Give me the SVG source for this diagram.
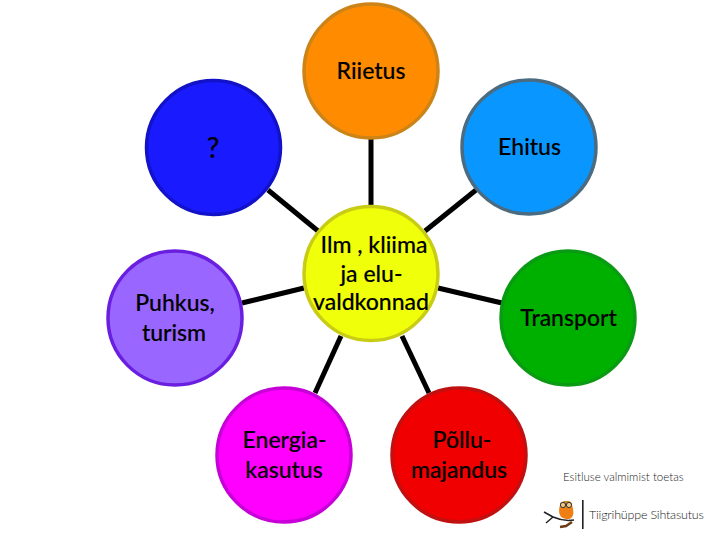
<svg xmlns="http://www.w3.org/2000/svg" width="720" height="540" viewBox="0 0 720 540">
<style>
.n{stroke-width:3.500}
.t{font-family:Lato,"Open Sans",sans-serif;font-size:23px;font-weight:500;fill:#000;text-anchor:middle;stroke:#000;stroke-width:.15}
.c line{stroke:#000;stroke-width:5;fill:none}
.s{font-family:Lato,"Open Sans",sans-serif;fill:#222;font-weight:300}
</style>
<rect width="720" height="540" fill="#fff"/>
<g id="connectors" class="c">
<line x1="371" y1="138" x2="371" y2="206"/>
<line x1="268" y1="190" x2="318" y2="231"/>
<line x1="476" y1="190" x2="425" y2="231"/>
<line x1="242" y1="303" x2="304" y2="288"/>
<line x1="502" y1="303" x2="438" y2="288"/>
<line x1="315" y1="393" x2="341" y2="336"/>
<line x1="429" y1="393" x2="402" y2="336"/>
</g>
<g id="node-riietus"><circle class="n" cx="371" cy="71" r="67" fill="#ff8c00" stroke="#cc8419"/><text class="t" x="371" y="79">Riietus</text></g>
<g id="node-question"><circle class="n" cx="213.500" cy="147.500" r="67" fill="#1a1aff" stroke="#1212c8"/><text class="t" x="213" y="158" style="font-size:28px">?</text></g>
<g id="node-ehitus"><circle class="n" cx="529" cy="147" r="67" fill="#0a96ff" stroke="#4a6b80"/><text class="t" x="529.500" y="155">Ehitus</text></g>
<g id="node-puhkus"><circle class="n" cx="175" cy="318" r="67" fill="#9966ff" stroke="#6a1fe0"/><text class="t" x="175" y="311">Puhkus,</text><text class="t" x="174" y="341">turism</text></g>
<g id="node-transport"><circle class="n" cx="568" cy="318" r="67" fill="#00b000" stroke="#0a9a14"/><text class="t" x="568.500" y="326">Transport</text></g>
<g id="node-energia"><circle class="n" cx="284" cy="455" r="67" fill="#ff00ff" stroke="#c800d8"/><text class="t" x="284.500" y="448">Energia-</text><text class="t" x="284" y="478">kasutus</text></g>
<g id="node-pollu"><circle class="n" cx="459" cy="455" r="67" fill="#f00000" stroke="#c01010"/><text class="t" x="462" y="448">Põllu-</text><text class="t" x="459" y="478">majandus</text></g>
<g id="node-center"><circle class="n" cx="371" cy="273.500" r="67" fill="#f0ff0a" stroke="#c8cc14"/><text class="t" x="374" y="253">Ilm , kliima</text><text class="t" x="371.500" y="282">ja elu-</text><text class="t" x="371" y="310">valdkonnad</text></g>
<g id="logo">
<text class="s" x="563" y="481" font-size="11.500">Esitluse valmimist toetas</text>
<text class="s" x="589" y="519" font-size="12.500" letter-spacing="-.2">Tiigrihüppe Sihtasutus</text>
<rect x="582" y="500" width="1.600" height="29" fill="#222"/>
<path d="M544 512 L553 517 L546 523 M553 517 C560 520 568 521 574 520" fill="none" stroke="#222" stroke-width="1.500"/>
<path d="M560 505 C558 512 559 518 566 519 C573 520 575 514 572 505 Z" fill="#f07f13"/>
<path d="M560 503 L564 501 L569 501 L572 503 L571 508 L561 508 Z" fill="#c9842c"/>
<circle cx="563" cy="505" r="2.600" fill="#f3c98a" stroke="#333" stroke-width="1"/>
<circle cx="569" cy="505" r="2.600" fill="#f3c98a" stroke="#333" stroke-width="1"/>
<path d="M560 527 L566 526 L572 522" stroke="#6b3a12" stroke-width="2.500" fill="none"/>
</g>
</svg>
